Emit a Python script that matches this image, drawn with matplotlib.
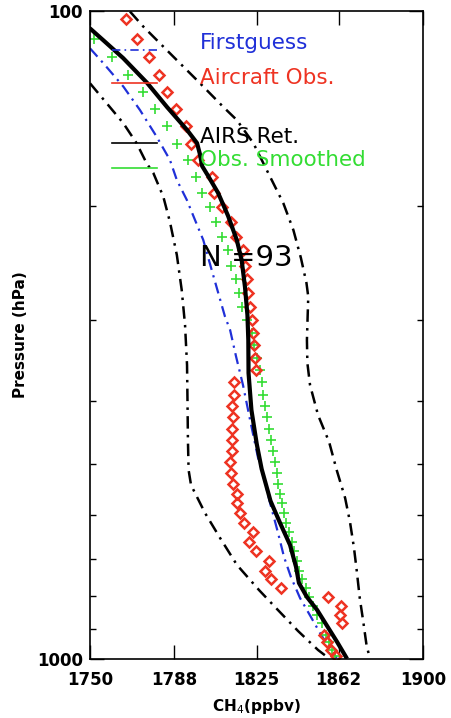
import numpy as np
import matplotlib
matplotlib.use("Agg")
import matplotlib.pyplot as plt
from matplotlib.ticker import FixedLocator, NullFormatter

plt.rcParams['font.family'] = ['DejaVu Sans']

# aircraft profile (diamonds)
obs_p = [103.0, 110.4, 117.6, 125.7, 133.4, 141.8, 150.5, 160.6, 169.8, 180.2,
         190.8, 200.4, 211.4, 223.0, 233.8, 247.5, 259.4, 272.7, 286.0, 299.8,
         314.4, 327.7, 342.8, 358.1, 373.3, 391.4, 407.0, 423.6, 441.6, 459.2,
         477.5, 496.2, 516.0, 536.5, 555.9, 575.1, 596.0, 617.5, 636.8, 661.0,
         681.8, 706.7, 730.7, 753.2, 776.5, 801.5, 827.7, 855.2, 880.8, 917.3,
         943.0, 970.3, 990.4]
obs_ch4 = [1766.2, 1771.2, 1776.4, 1781.1, 1784.7, 1788.7, 1793.1, 1795.5, 1798.8, 1804.8,
           1806.0, 1809.3, 1813.5, 1815.8, 1819.1, 1819.8, 1820.6, 1821.3, 1822.1, 1822.8,
           1823.6, 1823.9, 1824.3, 1824.8, 1814.9, 1814.9, 1813.8, 1814.3, 1813.8, 1813.8,
           1813.8, 1813.1, 1813.4, 1814.5, 1816.1, 1816.2, 1817.6, 1819.5, 1823.6, 1821.8,
           1824.9, 1830.4, 1828.6, 1831.4, 1836.2, 1857.3, 1863.2, 1862.8, 1863.5, 1855.4,
           1856.8, 1858.5, 1860.8]

# aircraft profile smoothed with the averaging kernel (crosses)
smooth_p = obs_p[1:]
smooth_ch4 = [1752.0, 1759.9, 1767.1, 1773.9, 1779.1, 1784.5, 1789.2, 1794.1, 1797.8,
              1800.5, 1803.9, 1806.9, 1809.3, 1812.3, 1813.4, 1815.9, 1817.2, 1818.5,
              1820.9, 1822.8, 1823.9, 1825.0, 1826.4, 1827.3, 1827.8, 1829.0, 1829.8,
              1830.5, 1831.5, 1832.6, 1833.5, 1834.1, 1834.8, 1835.6, 1836.5, 1837.4,
              1838.4, 1839.6, 1840.8, 1842.1, 1843.2, 1844.1, 1845.7, 1847.3, 1848.6,
              1850.5, 1852.3, 1854.3, 1856.3, 1857.7, 1859.0, 1860.4]

# AIRS retrieval mean
ret_p = [106.4, 110.9, 118.2, 129.1, 140.7, 152.6, 159.9, 166.3, 173.5, 179.7,
         190.9, 207.2, 225.6, 242.3, 266.7, 294.5, 322.0, 362.0, 412.8, 465.9,
         509.0, 570.4, 616.8, 667.0, 721.1, 763.3, 802.3, 840.3, 889.4, 941.4, 992.9]
ret_ch4 = [1750.0, 1755.9, 1764.9, 1775.7, 1784.7, 1793.7, 1798.2, 1799.5, 1800.5, 1803.2,
           1807.7, 1812.2, 1816.1, 1818.3, 1819.8, 1820.9, 1821.3, 1821.4, 1822.7, 1825.1,
           1827.3, 1831.3, 1835.6, 1840.1, 1842.8, 1844.1, 1847.7, 1852.3, 1856.8, 1861.3,
           1865.3]

# first guess
fg_p = [114.2, 120.4, 130.8, 142.2, 156.3, 169.8, 182.3, 195.7, 210.2, 225.6,
        251.0, 272.7, 296.3, 310.7, 341.6, 377.8, 427.7, 489.6, 533.3, 574.4,
        639.1, 696.2, 747.4, 805.3, 861.4, 918.3, 968.5, 996.5]
fg_ch4 = [1750.0, 1756.0, 1765.0, 1772.5, 1780.0, 1786.0, 1789.1, 1793.6, 1797.3, 1801.0,
          1804.8, 1807.8, 1810.8, 1813.1, 1815.8, 1818.9, 1822.1, 1825.7, 1828.8, 1831.1,
          1834.7, 1837.4, 1840.5, 1844.6, 1849.5, 1854.1, 1858.6, 1861.1]

# retrieval minus / plus one standard deviation
lo_p = [129.3, 138.8, 149.0, 160.0, 171.8, 177.8, 193.4, 211.6, 237.9, 269.5,
        305.2, 351.8, 398.4, 459.2, 510.9, 539.0, 595.3, 650.7, 716.1, 782.6,
        834.5, 905.4, 968.5, 992.9]
lo_ch4 = [1750.0, 1757.5, 1765.0, 1771.0, 1775.5, 1778.5, 1783.0, 1786.0, 1789.1, 1791.3,
          1792.8, 1793.7, 1793.9, 1794.1, 1794.4, 1795.5, 1801.8, 1808.6, 1816.2, 1826.1,
          1833.8, 1843.7, 1852.7, 1856.8]
hi_p = [100.2, 105.7, 117.6, 127.8, 140.6, 147.3, 160.0, 180.2, 198.1, 217.8,
        240.6, 263.0, 276.0, 297.6, 322.0, 349.3, 377.8, 420.2, 462.6, 510.9,
        564.3, 614.6, 674.1, 729.0, 805.3, 876.9, 955.0, 985.9]
hi_ch4 = [1768.0, 1774.0, 1787.5, 1798.1, 1810.0, 1816.1, 1823.6, 1831.1, 1837.1, 1841.6,
          1845.0, 1847.5, 1848.3, 1848.0, 1847.7, 1847.9, 1849.1, 1852.7, 1857.7, 1861.1,
          1864.9, 1867.1, 1868.9, 1870.1, 1871.5, 1873.1, 1874.6, 1875.7]

xticks = [1750, 1788, 1825, 1862, 1900]
n_profiles = 93

red = '#ee3322'
blue = '#2030d8'
green = '#33dd33'

fig = plt.figure(figsize=(4.51, 7.18), dpi=100)
ax = fig.add_axes([0.1996, 0.0822, 0.7384, 0.9025])

dd = (0, (5, 2.5, 1, 2.5))
ax.plot(lo_ch4, lo_p, color='black', lw=1.8, ls=dd)
ax.plot(hi_ch4, hi_p, color='black', lw=1.8, ls=dd)
ax.plot(fg_ch4, fg_p, color=blue, lw=1.6, ls=dd)
ax.plot(smooth_ch4, smooth_p, ls='none', marker='+', ms=7, mew=1.2, color=green)
ax.plot(obs_ch4, obs_p, ls='none', marker='D', ms=5.5, mew=1.8, mfc='none', mec=red)
ax.plot(ret_ch4, ret_p, color='black', lw=3)

ax.set_yscale('log')
ax.set_ylim(1000, 100)
ax.set_xlim(1750, 1900)
ax.yaxis.set_major_locator(FixedLocator([100, 1000]))
ax.yaxis.set_minor_locator(FixedLocator([200, 300, 400, 500, 600, 700, 800, 900]))
ax.yaxis.set_minor_formatter(NullFormatter())
ax.set_yticklabels(['100', '1000'])
ax.set_xticks(xticks)
ax.set_xticklabels([str(v) for v in xticks])

ax.tick_params(which='both', direction='in', top=True, right=True, width=1)
ax.tick_params(axis='x', which='major', length=10, pad=9, labelsize=12)
ax.tick_params(axis='y', which='major', length=10, pad=5, labelsize=12)
ax.tick_params(axis='y', which='minor', length=4)
for lab in ax.get_xticklabels() + ax.get_yticklabels():
    lab.set_fontweight('bold')
for sp in ax.spines.values():
    sp.set_linewidth(1.2)

ax.set_xlabel(r'CH$_4$(ppbv)', fontsize=11, fontweight='bold')
ax.set_ylabel('Pressure (hPa)', fontsize=11, fontweight='bold')
ax.xaxis.set_label_coords(0.5, -0.058)
ax.yaxis.set_label_coords(-0.186, 0.5)

# legend drawn as labelled line samples
legend = [('Firstguess', blue, dd, 0.951, 0.940),
          ('Aircraft Obs.', red, '-', 0.897, 0.889),
          ('AIRS Ret.', 'black', '-', 0.806, 0.796),
          ('Obs. Smoothed', green, '-', 0.770, 0.758)]
for label, col, style, ty, ly in legend:
    ax.text(0.33, ty, label, color=col, fontsize=15.5, va='center', ha='left',
            transform=ax.transAxes)
    ax.plot([0.066, 0.201], [ly, ly], color=col, ls=style, lw=1.2,
            transform=ax.transAxes)

ax.text(0.33, 0.619, 'N =%d' % n_profiles, fontsize=21, va='center', ha='left',
        transform=ax.transAxes)

fig.savefig('out.png', dpi=100)
